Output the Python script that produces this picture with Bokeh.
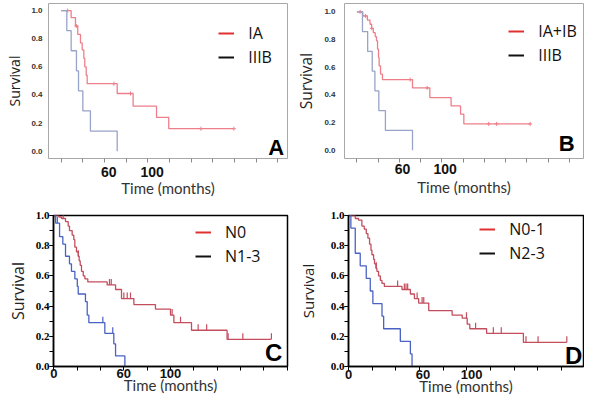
from bokeh.plotting import figure
from bokeh.models import (FixedTicker, LinearAxis, Legend, LegendItem, Label,
                          Range1d, PrintfTickFormatter, SingleIntervalTicker)
from bokeh.layouts import row, column
from bokeh.embed import file_html
from bokeh.resources import INLINE

# ---------------- data ----------------
# Panel A
IA_t = [9.2, 13.2, 15.3, 17.8, 19.4, 20.9, 21.8, 23.1, 24.0, 51.7, 66.4, 88.0, 99.3]
IA_s = [0.95, 0.89, 0.83, 0.77, 0.72, 0.66, 0.60, 0.54, 0.48, 0.41, 0.32, 0.24, 0.16]
IA_end = 159.4
IA_cens = [6.0, 14.0, 48.6, 64.0, 129.0, 159.4]
IIIB_A_t = [5.2, 9.2, 14.1, 16.0, 20.0, 27.0, 51.7]
IIIB_A_s = [0.857, 0.714, 0.571, 0.429, 0.286, 0.143, 0.0]
A_tick_labels = ["60", "100"]
A_label_pos = [44, 84]

# Panel B
IAIB_t = [5.5, 9.8, 12.3, 13.8, 15.4, 17.2, 18.4, 19.4, 20.3, 20.9, 22.2, 24.0,
          52.3, 68.6, 88.6, 97.5, 100.6]
IAIB_s = [0.97, 0.94, 0.91, 0.88, 0.85, 0.82, 0.79, 0.73, 0.67, 0.61, 0.55, 0.51,
          0.45, 0.38, 0.32, 0.26, 0.19]
IAIB_end = 163.0
IAIB_cens = [3.0, 8.0, 14.0, 50.1, 66.1, 124.0, 131.4, 163.0]
IIIB_B_t = [5.2, 10.1, 14.4, 16.9, 20.6, 26.8, 52.3]
IIIB_B_s = [0.857, 0.714, 0.571, 0.429, 0.286, 0.143, 0.0]
B_tick_labels = ["60", "100"]
B_label_pos = [43, 83]

# Panel C
N0_t = [4.3, 6.6, 10.0, 12.3, 13.4, 15.7, 17.1, 18.0, 19.4, 20.9, 21.7, 22.6, 23.7,
        25.2, 26.6, 29.1, 45.7, 52.9, 58.0, 68.6, 87.1, 100.0, 102.9, 118.0, 148.5]
N0_s = [0.99, 0.98, 0.96, 0.93, 0.90, 0.87, 0.84, 0.79, 0.76, 0.73, 0.70, 0.67, 0.63,
        0.60, 0.58, 0.56, 0.54, 0.51, 0.45, 0.41, 0.38, 0.34, 0.29, 0.24, 0.18]
N0_end = 186.5
N0_cens = [2.0, 8.0, 21.0, 47.7, 49.2, 60.0, 62.9, 65.7, 101.4, 108.6, 123.7, 131.0,
           149.4, 162.0, 186.5]
N13_t = [1.5, 4.9, 7.7, 10.0, 13.4, 15.1, 18.0, 20.1, 20.9, 27.1, 28.6, 30.0, 43.7,
         51.4, 52.9, 60.9]
N13_s = [0.95, 0.86, 0.81, 0.73, 0.68, 0.63, 0.58, 0.53, 0.48, 0.43, 0.34, 0.29, 0.22,
         0.15, 0.07, 0.0]
N13_cens = [3.0, 42.0, 50.5]
C_tick_labels = ["0", "60", "100"]
C_label_pos = [0, 60, 100]

# Panel D
N01_t = [5.7, 8.5, 11.3, 13.3, 15.0, 16.4, 17.8, 19.0, 19.8, 21.2, 22.0, 23.2, 24.0,
         25.4, 26.9, 28.3, 30.3, 45.2, 52.3, 55.7, 59.3, 67.8, 87.6, 96.1, 100.3,
         102.5, 116.7, 147.8]
N01_s = [0.98, 0.97, 0.93, 0.91, 0.88, 0.85, 0.81, 0.77, 0.74, 0.71, 0.68, 0.65, 0.63,
         0.60, 0.57, 0.55, 0.53, 0.51, 0.48, 0.45, 0.42, 0.37, 0.34, 0.32, 0.28,
         0.25, 0.22, 0.16]
N01_end = 184.5
N01_cens = [2.5, 23.5, 41.5, 47.2, 48.6, 50.0, 58.0, 62.2, 63.6, 99.7, 107.4, 122.4,
            129.1, 150.0, 160.2, 184.5]
N23_t = [2.0, 5.7, 9.9, 15.0, 18.4, 20.6, 28.3, 29.7, 43.8, 52.3, 53.7]
N23_s = [0.917, 0.75, 0.667, 0.583, 0.5, 0.417, 0.333, 0.25, 0.167, 0.083, 0.0]
D_tick_labels = ["0", "60", "100"]
D_label_pos = [0, 63, 104]

x_ticks = list(range(0, 201, 20))
y_ticks = [0.0, 0.2, 0.4, 0.6, 0.8, 1.0]


def km_path(times, surv, end=None):
    xs = [0.0] + list(times)
    ys = [1.0] + list(surv)
    if end is not None:
        xs.append(end)
        ys.append(ys[-1])
    return xs, ys


def surv_at(times, surv, t):
    s = 1.0
    for ti, si in zip(times, surv):
        if ti <= t:
            s = si
    return s


def make_panel(w, h, borders, xr, yr, light, curves, labels, label_pos,
               legend_labels, legend_loc, letter, letter_xy, ylabel_size,
               y_std, ylab_std, xlab_std, title_std, title_bounds):
    left, right, top, bottom = borders
    p = figure(width=w, height=h, output_backend="svg", toolbar_location=None,
               x_range=Range1d(*xr), y_range=Range1d(*yr),
               min_border_left=left, min_border_right=right,
               min_border_top=top, min_border_bottom=bottom)
    p.grid.visible = False
    p.background_fill_color = "white"
    p.border_fill_color = "white"
    p.outline_line_color = "#a8a8a8" if light else "black"
    p.outline_line_width = 1 if light else 1.5

    # y axis
    ya = p.yaxis[0]
    if light:
        ya.ticker = FixedTicker(ticks=y_ticks)
        ya.major_tick_out = 0
        ya.minor_tick_out = 0
        ya.major_tick_in = 0
        ya.minor_tick_in = 0
        ya.axis_line_color = None
        ya.major_label_text_font = "Liberation Sans"
        ya.major_label_text_font_size = "8px"
        ya.major_label_text_color = "#333333"
    else:
        ya.ticker = SingleIntervalTicker(interval=0.2, num_minor_ticks=2)
        ya.major_tick_out = 4
        ya.minor_tick_out = 4
        ya.major_tick_in = 0
        ya.minor_tick_in = 0
        ya.axis_line_color = "black"
        ya.axis_line_width = 1.5
        ya.major_tick_line_color = "black"
        ya.minor_tick_line_color = "black"
        ya.major_label_text_font = "Liberation Serif"
        ya.major_label_text_font_size = "11px"
        ya.major_label_text_color = "black"
    ya.major_label_text_font_style = "bold"
    ya.formatter = PrintfTickFormatter(format="%.1f")
    ya.major_label_standoff = y_std
    ya.axis_label = "Survival"
    ya.axis_label_text_font = "Open Sans"
    ya.axis_label_text_font_style = "normal"
    ya.axis_label_text_font_size = ylabel_size
    ya.axis_label_text_color = "#222222"
    ya.axis_label_standoff = ylab_std

    # x axis: tick marks only (labels not drawn)
    xa = p.xaxis[0]
    xa.ticker = FixedTicker(ticks=x_ticks)
    xa.major_label_text_font_size = "1px"
    xa.major_label_text_color = None
    xa.major_label_standoff = 0
    xa.major_tick_out = 4
    xa.major_tick_in = 0
    xa.minor_tick_out = 0
    xa.minor_tick_in = 0
    xa.major_tick_line_color = "#888888" if light else "black"
    xa.axis_line_color = None if light else "black"
    xa.axis_line_width = 1.5

    # x axis: printed tick numbers
    lab = LinearAxis(ticker=FixedTicker(ticks=label_pos),
                     major_label_overrides={pp: s for pp, s in zip(label_pos, labels)})
    lab.major_tick_out = 0
    lab.major_tick_in = 0
    lab.minor_tick_out = 0
    lab.minor_tick_in = 0
    lab.axis_line_color = None
    lab.major_label_text_font = "Liberation Sans"
    lab.major_label_text_font_style = "bold"
    lab.major_label_text_font_size = "14px" if light else "13px"
    lab.major_label_text_color = "#111111"
    lab.major_label_standoff = xlab_std
    p.add_layout(lab, "below")

    # x axis title (own axis, so that its centre can follow the picture)
    ttl = LinearAxis(ticker=FixedTicker(ticks=[]), bounds=title_bounds)
    ttl.major_tick_out = 0
    ttl.major_tick_in = 0
    ttl.minor_tick_out = 0
    ttl.minor_tick_in = 0
    ttl.axis_line_color = None
    ttl.major_label_standoff = 0
    ttl.axis_label = "Time (months)"
    ttl.axis_label_text_font = "Lato"
    ttl.axis_label_text_font_style = "normal"
    ttl.axis_label_text_font_size = "15px"
    ttl.axis_label_text_color = "#333333"
    ttl.axis_label_standoff = title_std
    p.add_layout(ttl, "below")

    # curves
    for (times, surv, end, cens, col) in curves:
        xs, ys = km_path(times, surv, end)
        p.step(xs, ys, mode="after", line_color=col, line_width=1.3)
        if cens:
            cy = [surv_at(times, surv, t) for t in cens]
            if light:
                p.scatter(cens, cy, marker="cross", size=4, line_color=col,
                          line_width=1)
            else:
                p.segment(x0=cens, y0=cy, x1=cens, y1=[c + 0.04 for c in cy],
                          line_color=col, line_width=1.2)

    # legend swatches (red and black), drawn off-range so only the legend shows
    off = xr[0] - 50
    r1 = p.line([off, off - 1], [0.5, 0.5], line_color="#e03030", line_width=2)
    r2 = p.line([off, off - 1], [0.5, 0.5], line_color="#111111", line_width=2)
    leg = Legend(items=[LegendItem(label=legend_labels[0], renderers=[r1]),
                        LegendItem(label=legend_labels[1], renderers=[r2])],
                 location=legend_loc, glyph_width=16, glyph_height=24,
                 label_height=24, spacing=-2, padding=0, margin=0,
                 label_standoff=14, border_line_color=None,
                 background_fill_alpha=0, label_text_font="Open Sans",
                 label_text_font_size="16px", label_text_color="#111111")
    p.add_layout(leg)

    p.add_layout(Label(x=letter_xy[0], y=letter_xy[1], text=letter,
                       text_font="Liberation Sans", text_font_style="bold",
                       text_font_size="22px" if light else "24px",
                       text_align="center", text_baseline="middle",
                       text_color="black"))
    return p


redL, blueL = "#ee7f8a", "#98a3c8"
redD, blueD = "#c44d5e", "#4a62c4"

pA = make_panel(292, 199, (48, 5, 3, 41), (-11.7, 208.9), (-0.052, 1.05), True,
                [(IA_t, IA_s, IA_end, IA_cens, redL),
                 (IIIB_A_t, IIIB_A_s, None, [], blueL)],
                A_tick_labels, A_label_pos, ["IA", "IIIB"], (170.2, 89),
                "A", (198.5, 0.028), "14px", 6, 4, 4, -1, (-3.9, 208.9))
pB = make_panel(292, 199, (52, 1, 3, 40), (-11.7, 213.2), (-0.06, 1.06), True,
                [(IAIB_t, IAIB_s, IAIB_end, IAIB_cens, redL),
                 (IIIB_B_t, IIIB_B_s, None, [], blueL)],
                B_tick_labels, B_label_pos, ["IA+IB", "IIIB"], (164.2, 90.7),
                "B", (197.5, 0.048), "15.5px", 9, 4, 1, 1, (0, 213.2))
pC = make_panel(292, 198, (53, 5, 16, 30), (-0.3, 200.3), (0, 1), False,
                [(N0_t, N0_s, N0_end, N0_cens, redD),
                 (N13_t, N13_s, None, N13_cens, blueD)],
                C_tick_labels, C_label_pos, ["N0", "N1-3"], (142, 98),
                "C", (188.5, 0.094), "16px", 0, 4, -2, -5, (8.7, 200.3))
pD = make_panel(292, 198, (56, 1, 16, 31), (0, 198.6), (0, 1), False,
                [(N01_t, N01_s, N01_end, N01_cens, redD),
                 (N23_t, N23_s, None, [], blueD)],
                D_tick_labels, D_label_pos, ["N0-1", "N2-3"], (131.3, 100.7),
                "D", (190.2, 0.071), "15px", 0, 10, -1, -5, (10, 198.6))

layout = column(row(pA, pB, spacing=0), row(pC, pD, spacing=0), spacing=0)
open("out.html", "w").write(file_html(layout, INLINE))
